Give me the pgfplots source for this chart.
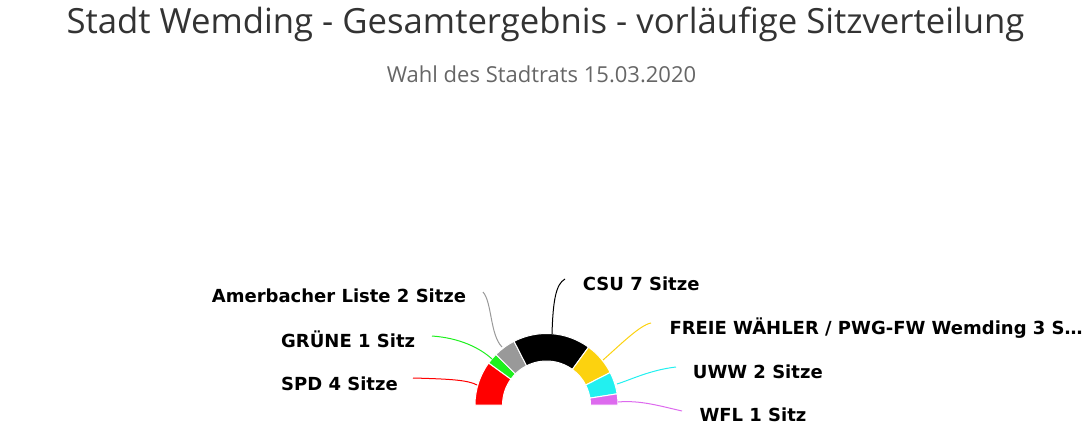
\documentclass[border=0pt]{standalone}
\usepackage{pgfplots}
\usepackage{pgfplotstable}
\pgfplotsset{compat=1.18}
\usepackage{fontspec}
\setmainfont{DejaVu Sans}
\newfontfamily\titlefont{Open Sans}

\definecolor{cspd}{HTML}{FF0000}
\definecolor{cgruene}{HTML}{1EF01E}
\definecolor{camb}{HTML}{999999}
\definecolor{ccsu}{HTML}{000000}
\definecolor{cfw}{HTML}{FCD20F}
\definecolor{cuww}{HTML}{22F0F0}
\definecolor{cwfl}{HTML}{DD6AEE}
\definecolor{ctitle}{HTML}{333333}
\definecolor{csub}{HTML}{666666}

% Sitze je Liste, von links nach rechts im Halbkreis
\pgfplotstableread{
seats color
4 cspd
1 cgruene
2 camb
7 ccsu
3 cfw
2 cuww
1 cwfl
}\sitze
\def\gesamt{20}

\begin{document}
\begin{tikzpicture}
\begin{axis}[
  width=1092pt, height=437pt, scale only axis,
  xmin=0, xmax=1092, ymin=0, ymax=437,
  y dir=reverse,
  hide axis, clip=false,
]
\path (rel axis cs:0,0) rectangle (rel axis cs:1,1);

% Titel
\node[anchor=base, inner sep=0, text=ctitle, font=\titlefont\fontsize{34.7}{40}\selectfont]
  at (axis cs:545.5,33) {Stadt Wemding - Gesamtergebnis - vorläufige Sitzverteilung};
\node[anchor=base, inner sep=0, text=csub, font=\titlefont\fontsize{22}{26}\selectfont]
  at (axis cs:541.5,82.3) {Wahl des Stadtrats 15.03.2020};

% Halbkreis-Segmente
\def\start{180}
\pgfplotstablegetrowsof{\sitze}
\pgfmathtruncatemacro\nrows{\pgfplotsretval-1}
\pgfplotsforeachungrouped \i in {0,...,\nrows}{
  \pgfplotstablegetelem{\i}{seats}\of\sitze \let\s=\pgfplotsretval
  \pgfplotstablegetelem{\i}{color}\of\sitze \let\c=\pgfplotsretval
  \pgfmathsetmacro\stop{\start-180*\s/\gesamt}
  \edef\temp{\noexpand\fill[\c, draw=white, line width=1pt, shift={(axis cs:546.5,405)}]
    (\start:71.5pt) arc[start angle=\start, end angle=\stop, radius=71.5pt]
    -- (\stop:44pt) arc[start angle=\stop, end angle=\start, radius=44pt] -- cycle;}
  \temp
  \global\let\start=\stop
}

% Verbindungslinien
\draw[camb, line width=1pt] (axis cs:483,292) .. controls (axis cs:492,302) and (axis cs:490,335) .. (axis cs:502,347);
\draw[ccsu, line width=1pt] (axis cs:565,279) .. controls (axis cs:556,284) and (axis cs:553,300) .. (axis cs:552,334);
\draw[cgruene, line width=1pt] (axis cs:432,336) .. controls (axis cs:460,338) and (axis cs:480,348) .. (axis cs:492,359);
\draw[cspd, line width=1pt] (axis cs:413,378) .. controls (axis cs:450,379) and (axis cs:468,380) .. (axis cs:477,385);
\draw[cfw, line width=1pt] (axis cs:651,323) .. controls (axis cs:640,325) and (axis cs:620,345) .. (axis cs:603,360);
\draw[cuww, line width=1pt] (axis cs:676,367) .. controls (axis cs:650,370) and (axis cs:630,380) .. (axis cs:617,384);
\draw[cwfl, line width=1pt] (axis cs:618,402) .. controls (axis cs:640,400) and (axis cs:660,406) .. (axis cs:682,411);

% Beschriftungen
\tikzset{lbl/.style={anchor=base west, inner sep=0, font=\bfseries\fontsize{18}{21}\selectfont}}
\node[lbl] at (axis cs:211.7,302.7) {Amerbacher Liste 2 Sitze};
\node[lbl] at (axis cs:281,347.3) {GRÜNE 1 Sitz};
\node[lbl] at (axis cs:281,390.7) {SPD 4 Sitze};
\node[lbl] at (axis cs:582.7,290.7) {CSU 7 Sitze};
\node[lbl] at (axis cs:669.3,334) {FREIE WÄHLER / PWG-FW Wemding 3 S…};
\node[lbl] at (axis cs:692.7,378.3) {UWW 2 Sitze};
\node[lbl] at (axis cs:699.3,421.7) {WFL 1 Sitz};
\end{axis}
\end{tikzpicture}
\end{document}
